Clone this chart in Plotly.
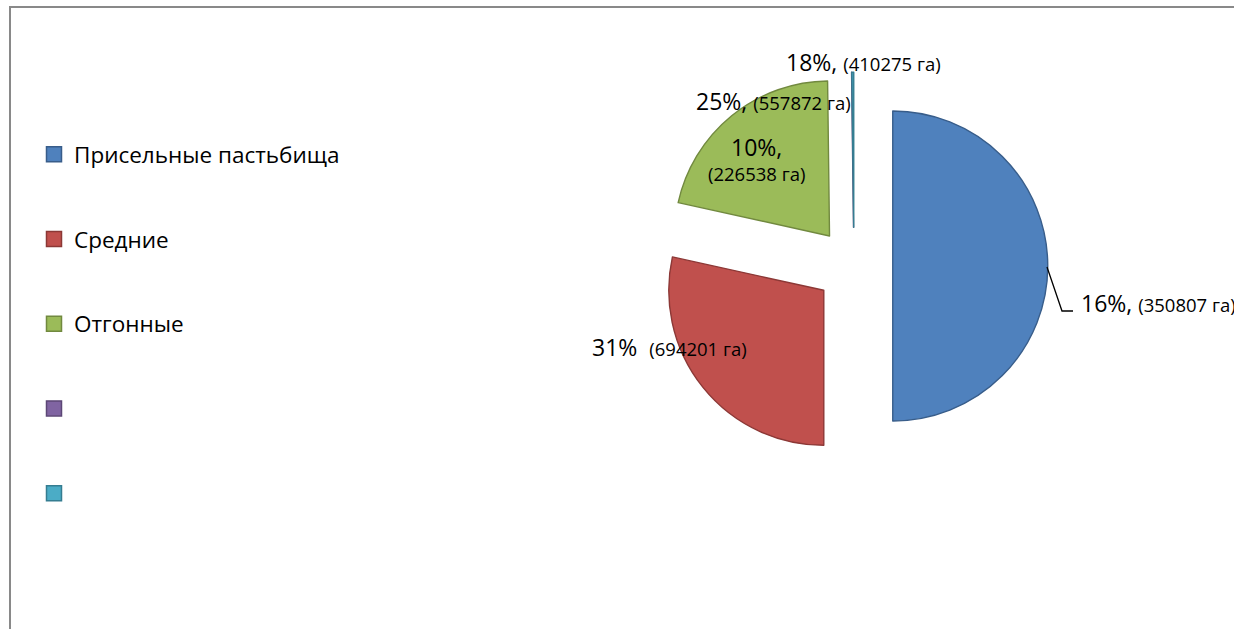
import plotly.graph_objects as go

W, H = 1234, 629

# ---- data ----
categories = ["Присельные пастьбища", "Средние", "Отгонные", " ", "  "]
slice_values = [50.0, 28.45, 21.35, 0.0, 0.2]          # slice sizes as drawn
pct_labels = ["16%", "31%", "10%", "25%", "18%"]        # label percentages
hectares = [350807, 694201, 226538, 557872, 410275]    # label areas, га

fills = ["#4F81BD", "#C0504D", "#9BBB59", "#8064A2", "#4BACC6"]
edges = ["#385D8A", "#8C3836", "#71893F", "#5C4776", "#357D91"]


def px(x):
    return x / W


def py(y):
    return 1 - y / H


fig = go.Figure()

# pie centre (854, 266), radius 155, pull 0.25 -> domain half size 193.75
cx, cy, half = 854, 266, 193.75
fig.add_trace(go.Pie(
    labels=categories,
    values=slice_values,
    sort=False,
    direction="clockwise",
    rotation=0,
    pull=[0.25] * 5,
    marker=dict(colors=fills, line=dict(color=edges, width=1.4)),
    textinfo="none",
    hoverinfo="label+value",
    showlegend=False,
    domain=dict(x=[px(cx - half), px(cx + half)], y=[py(cy + half), py(cy - half)]),
))

# legend entries
for i, (name, f, e) in enumerate(zip(categories, fills, edges)):
    fig.add_trace(go.Scatter(
        x=[None], y=[None], mode="markers", name=name,
        legendgroup=f"g{i}",
        marker=dict(symbol="square", size=15, color=f, line=dict(color=e, width=1.5)),
    ))

small = "font-size:18.5px"


def lab(i, sep=", "):
    return f"{pct_labels[i]}{sep}<span style='{small}'>({hectares[i]} га)</span>"


ann = [
    dict(x=px(863), y=py(62), text=lab(4), xanchor="center", yanchor="middle"),
    dict(x=px(773), y=py(101), text=lab(3), xanchor="center", yanchor="middle"),
    dict(x=px(757), y=py(147), text=f"{pct_labels[2]},", xanchor="center", yanchor="middle"),
    dict(x=px(757), y=py(174), text=f"<span style='{small}'>({hectares[2]} га)</span>",
         xanchor="center", yanchor="middle"),
    dict(x=px(669), y=py(347), text=lab(1, sep="  "), xanchor="center", yanchor="middle"),
    dict(x=px(1079), y=py(303), text=lab(0), xanchor="left", yanchor="middle"),
]
for a in ann:
    a.update(xref="paper", yref="paper", showarrow=False,
             font=dict(family="Open Sans", size=23, color="#000000"))

fig.update_layout(
    width=W, height=H,
    margin=dict(l=0, r=0, t=0, b=0),
    paper_bgcolor="white", plot_bgcolor="white",
    xaxis=dict(visible=False), yaxis=dict(visible=False),
    font=dict(family="Open Sans", size=22, color="#000000"),
    legend=dict(x=px(34), y=py(133), xanchor="left", yanchor="top",
                tracegroupgap=52.5, bgcolor="rgba(0,0,0,0)",
                font=dict(family="Open Sans", size=22.5)),
    annotations=ann,
    shapes=[
        dict(type="rect", xref="paper", yref="paper",
             x0=px(10), x1=1.02, y0=-0.02, y1=py(7),
             line=dict(color="#898989", width=2), layer="below"),
        dict(type="path", xref="paper", yref="paper",
             path=f"M {px(1047)} {py(267)} L {px(1062)} {py(311)} L {px(1073)} {py(311)}",
             line=dict(color="#000000", width=1.3)),
    ],
)

fig.write_html("out.html")
